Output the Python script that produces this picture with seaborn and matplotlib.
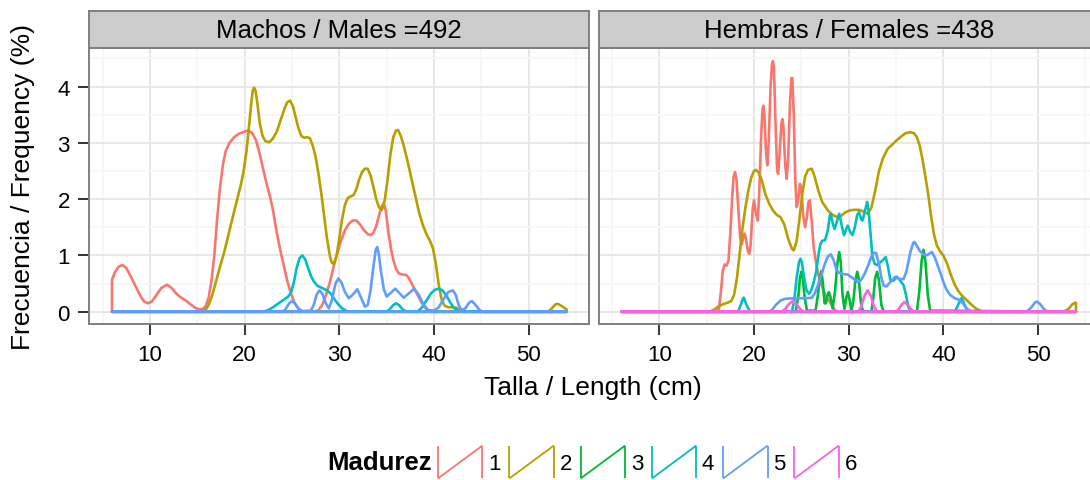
import numpy as np
import pandas as pd
import matplotlib
matplotlib.use("Agg")
import matplotlib.pyplot as plt
import seaborn as sns
from matplotlib.lines import Line2D
from matplotlib.legend_handler import HandlerBase
from matplotlib.ticker import MultipleLocator

# ---------------- data ----------------
stages = ["1", "2", "3", "4", "5", "6"]
panel_titles = ["Machos / Males =492", "Hembras / Females =438"]
x_ticks = [10, 20, 30, 40, 50]
y_ticks = [0, 1, 2, 3, 4]

# Males
males_s1_x = [6.0, 6.3, 6.7, 7.1, 7.5, 8.0, 8.5, 9.0, 9.4, 9.8, 10.2, 10.7, 11.2, 11.8, 12.3, 12.8, 13.3, 13.8,
              14.3, 14.8, 15.2, 15.6, 15.9, 16.2, 16.5, 16.8, 17.1, 17.4, 17.7, 18.0, 18.4, 18.9, 19.4, 20.0,
              20.4, 20.8, 21.2, 21.6, 22.0, 22.4, 22.7, 23.0, 23.4, 23.8, 24.1, 24.5, 24.9, 25.3, 25.7, 26.1,
              27.4, 27.8, 28.2, 28.6, 29.0, 29.4, 29.8, 30.2, 30.6, 31.0, 31.4, 31.8, 32.2, 32.6, 33.0, 33.3,
              33.6, 33.9, 34.2, 34.5, 34.7, 34.9, 35.2, 35.5, 35.7, 36.0, 36.3, 36.7, 37.1, 37.4, 37.8, 38.2,
              38.6, 39.0, 39.4, 40.0, 54.0]
males_s1_y = [0.57, 0.7, 0.8, 0.83, 0.78, 0.62, 0.45, 0.28, 0.18, 0.15, 0.18, 0.3, 0.42, 0.48, 0.42, 0.32, 0.25, 0.2,
              0.13, 0.07, 0.04, 0.05, 0.1, 0.25, 0.55, 1.0, 1.65, 2.2, 2.6, 2.85, 3.0, 3.1, 3.16, 3.2,
              3.22, 3.17, 3.05, 2.8, 2.5, 2.22, 2.04, 1.8, 1.4, 1.07, 0.85, 0.55, 0.32, 0.15, 0.05, 0.01,
              0.0, 0.03, 0.12, 0.3, 0.52, 0.8, 1.05, 1.27, 1.45, 1.56, 1.62, 1.62, 1.55, 1.45, 1.38, 1.36,
              1.4, 1.52, 1.72, 1.88, 1.93, 1.8, 1.39, 1.08, 0.92, 0.76, 0.68, 0.66, 0.65, 0.58, 0.45, 0.32,
              0.19, 0.08, 0.02, 0.0, 0.0]

males_s2_x = [6.0, 15.4, 15.8, 16.2, 16.6, 17.0, 17.4, 17.8, 18.2, 18.6, 19.0, 19.3, 19.6, 19.9, 20.2, 20.5,
              20.7, 20.85, 21.0, 21.15, 21.35, 21.6, 21.9, 22.2, 22.6, 23.0, 23.4, 23.8, 24.2, 24.5, 24.8, 25.1,
              25.4, 25.7, 26.0, 26.3, 26.6, 26.9, 27.2, 27.5, 27.8, 28.1, 28.4, 28.7, 29.0, 29.2, 29.4, 29.7,
              30.0, 30.3, 30.6, 30.9, 31.2, 31.5, 31.8, 32.1, 32.4, 32.7, 33.0, 33.3, 33.6, 33.9, 34.2, 34.5,
              34.8, 35.1, 35.4, 35.7, 36.0, 36.2, 36.5, 36.8, 37.2, 37.6, 38.0, 38.4, 38.8, 39.2, 39.6, 39.9,
              40.2, 40.5, 40.8, 41.1, 41.5, 42.0, 42.4, 42.8, 43.3, 52.0, 52.4, 52.8, 53.1, 53.5, 54.0]
males_s2_y = [0.0, 0.0, 0.02, 0.12, 0.3, 0.55, 0.8, 1.03, 1.3, 1.58, 1.85, 2.05, 2.25, 2.5, 2.85, 3.35,
              3.7, 3.92, 3.98, 3.93, 3.7, 3.35, 3.12, 3.03, 3.01, 3.08, 3.2, 3.4, 3.6, 3.72, 3.75, 3.65,
              3.45, 3.25, 3.12, 3.09, 3.1, 3.08, 2.95, 2.75, 2.45, 2.1, 1.7, 1.3, 1.0, 0.87, 0.85, 0.98,
              1.3, 1.65, 1.9, 2.02, 2.05, 2.07, 2.18, 2.35, 2.48, 2.54, 2.54, 2.42, 2.22, 2.0, 1.85, 1.81,
              1.98, 2.35, 2.8, 3.1, 3.22, 3.23, 3.12, 2.95, 2.68, 2.38, 2.08, 1.78, 1.55, 1.38, 1.25, 1.12,
              0.85, 0.48, 0.22, 0.11, 0.08, 0.08, 0.07, 0.03, 0.0, 0.0, 0.05, 0.13, 0.14, 0.1, 0.04]

males_s4_x = [6.0, 22.0, 22.5, 23.0, 23.6, 24.1, 24.6, 24.9, 25.2, 25.5, 25.8, 26.1, 26.4, 26.7, 27.0, 27.3,
              27.7, 28.2, 28.7, 29.1, 29.5, 29.9, 30.3, 30.8, 31.2, 35.0, 35.3, 35.7, 36.0, 36.3, 36.7, 37.1,
              38.2, 38.7, 39.2, 39.7, 40.1, 40.5, 40.9, 41.3, 41.7, 42.1, 42.5, 42.9, 54.0]
males_s4_y = [0.0, 0.0, 0.03, 0.08, 0.15, 0.21, 0.27, 0.34, 0.52, 0.78, 0.95, 1.0, 0.93, 0.78, 0.64, 0.54,
              0.46, 0.42, 0.38, 0.32, 0.22, 0.13, 0.06, 0.01, 0.0, 0.0, 0.04, 0.12, 0.15, 0.12, 0.04, 0.0,
              0.0, 0.07, 0.2, 0.33, 0.39, 0.41, 0.38, 0.29, 0.17, 0.07, 0.02, 0.0, 0.0]

males_s5_x = [6.0, 24.0, 24.3, 24.7, 25.0, 25.3, 25.7, 26.1, 27.0, 27.3, 27.6, 27.9, 28.2, 28.6, 28.9, 29.2,
              29.6, 29.9, 30.2, 30.6, 31.0, 31.4, 31.9, 32.3, 32.7, 33.0, 33.3, 33.6, 33.85, 34.0, 34.15, 34.4,
              34.7, 35.0, 35.4, 35.9, 36.3, 36.8, 37.3, 37.9, 38.4, 38.9, 39.4, 40.0, 40.5, 41.0, 41.5, 42.0,
              42.3, 42.6, 42.9, 43.3, 43.7, 44.0, 44.4, 44.8, 45.2, 54.0]
males_s5_y = [0.0, 0.0, 0.04, 0.15, 0.19, 0.15, 0.05, 0.01, 0.02, 0.12, 0.3, 0.38, 0.32, 0.14, 0.06, 0.2,
              0.5, 0.59, 0.53, 0.35, 0.24, 0.3, 0.4, 0.25, 0.09, 0.12, 0.38, 0.8, 1.1, 1.15, 1.05, 0.72,
              0.4, 0.27, 0.33, 0.41, 0.34, 0.25, 0.32, 0.41, 0.3, 0.12, 0.03, 0.02, 0.08, 0.22, 0.35, 0.38,
              0.3, 0.12, 0.03, 0.06, 0.16, 0.19, 0.12, 0.03, 0.0, 0.0]

# Females
females_s1_x = [6.0, 16.0, 16.3, 16.5, 16.7, 16.9, 17.1, 17.3, 17.5, 17.7, 17.85, 18.0, 18.15, 18.35, 18.55, 18.7,
                18.85, 19.0, 19.15, 19.35, 19.5, 19.65, 19.85, 20.0, 20.2, 20.4, 20.55, 20.75, 20.9, 21.0, 21.1,
                21.25, 21.4, 21.55, 21.75, 21.9, 22.0, 22.1, 22.3, 22.45, 22.55, 22.7, 22.9, 23.0, 23.1, 23.3,
                23.45, 23.6, 23.8, 23.95, 24.05, 24.2, 24.35, 24.5, 24.65, 24.85, 25.0, 25.2, 25.4, 25.55, 25.75,
                25.9, 26.1, 26.3, 26.5, 26.8, 27.2, 27.6, 28.1, 28.6, 29.0, 54.0]
females_s1_y = [0.0, 0.0, 0.05, 0.35, 0.72, 0.84, 0.82, 0.9, 1.4, 2.05, 2.4, 2.48, 2.35, 1.8, 1.3, 1.2,
                1.3, 1.39, 1.3, 1.08, 1.03, 1.2, 1.8, 1.98, 1.75, 1.62, 2.1, 3.1, 3.6, 3.66, 3.5,
                2.9, 2.6, 3.0, 4.0, 4.4, 4.45, 4.35, 3.2, 2.5, 2.45, 2.8, 3.35, 3.42, 3.3, 2.6,
                2.36, 2.7, 3.7, 4.15, 4.15, 3.5, 2.4, 1.86, 1.95, 2.27, 2.2, 1.7, 1.5, 1.65, 1.95,
                1.98, 1.6, 1.15, 0.92, 0.65, 0.44, 0.28, 0.15, 0.02, 0.0, 0.0]

females_s2_x = [6.0, 15.3, 15.8, 16.3, 16.8, 17.2, 17.6, 17.9, 18.2, 18.5, 18.8, 19.1, 19.4, 19.7, 20.0, 20.2,
                20.5, 20.8, 21.2, 21.6, 22.0, 22.4, 22.8, 23.2, 23.6, 24.0, 24.2, 24.5, 24.8, 25.1, 25.4, 25.7,
                26.1, 26.4, 26.8, 27.2, 27.8, 28.3, 28.8, 29.2, 29.6, 30.1, 30.6, 31.1, 31.6, 32.0, 32.4, 32.8,
                33.2, 33.6, 34.1, 34.6, 35.1, 35.6, 36.0, 36.5, 36.9, 37.2, 37.5, 37.8, 38.1, 38.4, 38.7, 39.0,
                39.3, 39.7, 40.0, 40.4, 40.8, 41.2, 41.6, 42.0, 42.5, 43.0, 43.5, 44.0, 44.5, 52.7, 53.2, 53.6,
                53.9, 54.0]
females_s2_y = [0.0, 0.0, 0.04, 0.1, 0.14, 0.16, 0.19, 0.3, 0.6, 1.05, 1.5, 1.86, 2.15, 2.38, 2.5, 2.52,
                2.47, 2.35, 2.09, 1.92, 1.8, 1.72, 1.68, 1.55, 1.3, 1.12, 1.09, 1.25, 1.65, 2.1, 2.4, 2.52,
                2.54, 2.4, 2.15, 1.95, 1.8, 1.72, 1.68, 1.7, 1.76, 1.8, 1.81, 1.81, 1.78, 1.74, 1.85, 2.15,
                2.5, 2.72, 2.89, 2.97, 3.05, 3.12, 3.17, 3.19, 3.17, 3.1, 2.95, 2.7, 2.4, 2.08, 1.7, 1.38,
                1.18, 1.06, 1.0, 0.85, 0.65, 0.48, 0.36, 0.28, 0.2, 0.12, 0.05, 0.01, 0.0, 0.0, 0.05, 0.13,
                0.16, 0.16]

females_s3_x = [6.0, 24.4, 24.7, 24.85, 25.0, 25.15, 25.35, 25.6, 26.5, 26.75, 26.95, 27.1, 27.25, 27.45, 27.6,
                27.75, 27.9, 28.05, 28.3, 28.55, 28.8, 29.0, 29.15, 29.35, 29.55, 29.75, 29.9, 30.05, 30.3,
                30.5, 30.7, 30.9, 31.05, 31.3, 31.5, 32.4, 32.6, 32.8, 33.0, 33.2, 33.45, 33.7, 37.2, 37.45,
                37.7, 37.9, 38.1, 38.35, 38.6, 54.0]
females_s3_y = [0.0, 0.0, 0.3, 0.6, 0.71, 0.6, 0.25, 0.02, 0.02, 0.3, 0.62, 0.72, 0.55, 0.15, 0.15,
                0.28, 0.35, 0.28, 0.06, 0.35, 0.85, 1.06, 0.9, 0.3, 0.05, 0.25, 0.35, 0.25, 0.03,
                0.2, 0.55, 0.71, 0.6, 0.15, 0.01, 0.0, 0.25, 0.6, 0.71, 0.55, 0.12, 0.0, 0.0, 0.35,
                0.9, 1.1, 0.9, 0.3, 0.02, 0.0]

females_s4_x = [6.0, 18.3, 18.6, 18.8, 18.9, 19.0, 19.2, 19.6, 24.0, 24.25, 24.5, 24.75, 24.9, 25.05, 25.3, 25.55,
                25.8, 26.0, 26.3, 26.55, 26.8, 27.0, 27.2, 27.5, 27.8, 28.0, 28.1, 28.3, 28.5, 28.75, 29.0, 29.2,
                29.5, 29.7, 29.9, 30.15, 30.4, 30.65, 30.9, 31.1, 31.3, 31.45, 31.7, 31.95, 32.1, 32.3, 32.5,
                32.75, 33.0, 33.5, 33.9, 34.15, 34.4, 34.7, 35.1, 35.45, 35.8, 36.05, 36.3, 36.6, 41.2, 41.5,
                41.75, 41.9, 42.05, 42.35, 42.7, 54.0]
females_s4_y = [0.0, 0.0, 0.12, 0.22, 0.25, 0.22, 0.12, 0.0, 0.0, 0.2, 0.6, 0.88, 0.94, 0.88, 0.6, 0.38,
                0.32, 0.36, 0.52, 0.7, 1.0, 1.2, 1.26, 1.27, 1.45, 1.7, 1.74, 1.58, 1.47, 1.6, 1.74, 1.58,
                1.36, 1.45, 1.53, 1.42, 1.36, 1.5, 1.72, 1.77, 1.65, 1.62, 1.78, 1.95, 1.8, 1.4, 0.98,
                0.85, 0.83, 0.9, 0.97, 0.8, 0.56, 0.55, 0.62, 0.55, 0.47, 0.3, 0.08, 0.0, 0.0, 0.1,
                0.2, 0.24, 0.2, 0.08, 0.0, 0.0]

females_s5_x = [6.0, 21.5, 21.9, 22.3, 22.8, 23.3, 24.2, 25.5, 26.1, 26.4, 26.7, 27.1, 27.5, 27.8, 28.1, 28.4,
                28.7, 29.0, 29.4, 29.9, 30.4, 30.9, 31.3, 31.7, 32.0, 32.4, 32.7, 32.9, 33.2, 33.45, 33.7, 34.0,
                34.4, 34.9, 35.4, 35.8, 36.1, 36.5, 36.8, 36.95, 37.2, 37.5, 37.9, 38.2, 38.5, 38.8, 39.1, 39.4,
                39.7, 40.0, 40.3, 40.7, 41.2, 41.7, 42.1, 42.5, 42.9, 43.3, 48.8, 49.3, 49.7, 49.9, 50.2, 50.6,
                51.0, 54.0]
females_s5_y = [0.0, 0.0, 0.03, 0.12, 0.2, 0.23, 0.24, 0.24, 0.25, 0.32, 0.45, 0.65, 0.86, 0.98, 1.02, 0.92,
                0.75, 0.69, 0.67, 0.66, 0.6, 0.53, 0.56, 0.68, 0.8, 0.98, 1.05, 1.04, 0.85, 0.6, 0.46, 0.45,
                0.53, 0.62, 0.58, 0.58, 0.72, 1.05, 1.22, 1.24, 1.17, 1.08, 1.02, 1.0, 1.03, 1.06, 0.96, 0.82,
                0.68, 0.53, 0.4, 0.3, 0.24, 0.21, 0.14, 0.05, 0.01, 0.0, 0.0, 0.08, 0.17, 0.18, 0.14, 0.05,
                0.0, 0.0]

females_s6_x = [6.0, 22.9, 23.3, 23.7, 24.1, 24.5, 24.9, 25.3, 31.0, 31.3, 31.65, 32.0, 32.35, 32.7, 33.0,
                35.0, 35.3, 35.6, 35.9, 36.2, 36.6, 37.0, 54.0]
females_s6_y = [0.0, 0.0, 0.05, 0.14, 0.19, 0.13, 0.04, 0.0, 0.0, 0.08, 0.28, 0.38, 0.28, 0.08, 0.0,
                0.0, 0.05, 0.13, 0.17, 0.13, 0.04, 0.0, 0.0]

panel_series = [
    {"1": (males_s1_x, males_s1_y), "2": (males_s2_x, males_s2_y),
     "4": (males_s4_x, males_s4_y), "5": (males_s5_x, males_s5_y)},
    {"1": (females_s1_x, females_s1_y), "2": (females_s2_x, females_s2_y),
     "3": (females_s3_x, females_s3_y), "4": (females_s4_x, females_s4_y),
     "5": (females_s5_x, females_s5_y), "6": (females_s6_x, females_s6_y)},
]

palette = dict(zip(stages, ["#F8766D", "#B79F00", "#00BA38", "#00BFC4", "#619CFF", "#F564E3"]))

# ---------------- style ----------------
sns.set_theme(style="white")
plt.rcParams["font.family"] = ["Liberation Sans", "DejaVu Sans"]
plt.rcParams["text.color"] = "black"
plt.rcParams["axes.labelcolor"] = "black"

W, H = 1090, 481
fig = plt.figure(figsize=(W / 100, H / 100), dpi=100)
fig.patch.set_facecolor("white")

panel_left_px = [89.3, 598.7]
panel_w_px = 500.0
panel_top_px, panel_bot_px = 49.3, 325.3
strip_top_px = 12.0


def closed_outline(xs, ys):
    # geom_density style outline: baseline, curve, back along baseline
    return [xs[0]] + list(xs) + [xs[-1], xs[0]], [0.0] + list(ys) + [0.0, 0.0]


for i, (lp, title) in enumerate(zip(panel_left_px, panel_titles)):
    ax = fig.add_axes([lp / W, 1 - panel_bot_px / H, panel_w_px / W, (panel_bot_px - panel_top_px) / H])
    rows = []
    for st in stages:
        if st not in panel_series[i]:
            continue
        xs, ys = closed_outline(*panel_series[i][st])
        for k, (xv, yv) in enumerate(zip(xs, ys)):
            rows.append({"Madurez": st, "order": k, "x": xv, "y": yv})
    df = pd.DataFrame(rows)
    order = [s for s in stages if s in panel_series[i]]
    sns.lineplot(data=df, x="x", y="y", hue="Madurez", hue_order=order, palette=palette,
                 sort=False, estimator=None, lw=1.9, legend=False, ax=ax, zorder=3)
    ax.set_xlim(3.6, 56.4)
    ax.set_ylim(-0.2228, 4.6788)
    ax.set_xticks(x_ticks)
    ax.set_yticks(y_ticks)
    ax.xaxis.set_minor_locator(MultipleLocator(5))
    ax.yaxis.set_minor_locator(MultipleLocator(0.5))
    ax.grid(True, which="major", color="#E5E5E5", lw=1.3, zorder=0)
    ax.grid(True, which="minor", color="#F7F7F7", lw=1.3, zorder=0)
    ax.set_axisbelow(True)
    for sp in ax.spines.values():
        sp.set_color("#7F7F7F")
        sp.set_linewidth(1.4)
    ax.tick_params(axis="both", which="major", length=8, width=1.4, color="#333333",
                   labelsize=16, labelcolor="black", pad=6, direction="out",
                   bottom=True, left=True)
    ax.tick_params(axis="both", which="minor", length=0)
    ax.set_xlabel("")
    ax.set_ylabel("")
    if i == 1:
        ax.tick_params(axis="y", which="both", left=False, labelleft=False)

    # strip
    sax = fig.add_axes([lp / W, 1 - panel_top_px / H, panel_w_px / W, (panel_top_px - strip_top_px) / H])
    sax.set_facecolor("#CCCCCC")
    sax.set_xticks([])
    sax.set_yticks([])
    for sp in sax.spines.values():
        sp.set_color("#7F7F7F")
        sp.set_linewidth(1.4)
    sax.text(0.5, 0.5, title, ha="center", va="center", fontsize=18.5, color="black",
             transform=sax.transAxes)

fig.text(593 / W, 1 - 388 / H, "Talla / Length (cm)", ha="center", va="center", fontsize=19)
fig.text(23 / W, 1 - 187 / H, "Frecuencia / Frequency (%)", ha="center", va="center",
         rotation=90, fontsize=19)


# legend with density-style keys
class DensityKey(HandlerBase):
    def create_artists(self, legend, orig_handle, xdescent, ydescent, width, height, fontsize, trans):
        c = orig_handle.get_color()
        x0, y0 = -xdescent, -ydescent
        x1, y1 = x0 + width, y0 + height
        kw = dict(color=c, lw=1.3, transform=trans, solid_capstyle="butt")
        return [Line2D([x0, x0], [y0, y1], **kw),
                Line2D([x1, x1], [y0, y1], **kw),
                Line2D([x0, x1], [y0, y1], **kw)]


handles = [Line2D([], [], color=palette[s]) for s in stages]
fig.text(432 / W, 1 - 463 / H, "Madurez", ha="right", va="center", fontsize=18.5, fontweight="bold")
leg = fig.legend(handles, stages, loc="center left", bbox_to_anchor=(438 / W, 1 - 463 / H),
                 ncol=6, frameon=False, fontsize=16, handlelength=2.0, handleheight=1.9,
                 handletextpad=0.25, columnspacing=0.4, borderpad=0, borderaxespad=0,
                 handler_map={Line2D: DensityKey()})

fig.savefig("out.png", dpi=100)
